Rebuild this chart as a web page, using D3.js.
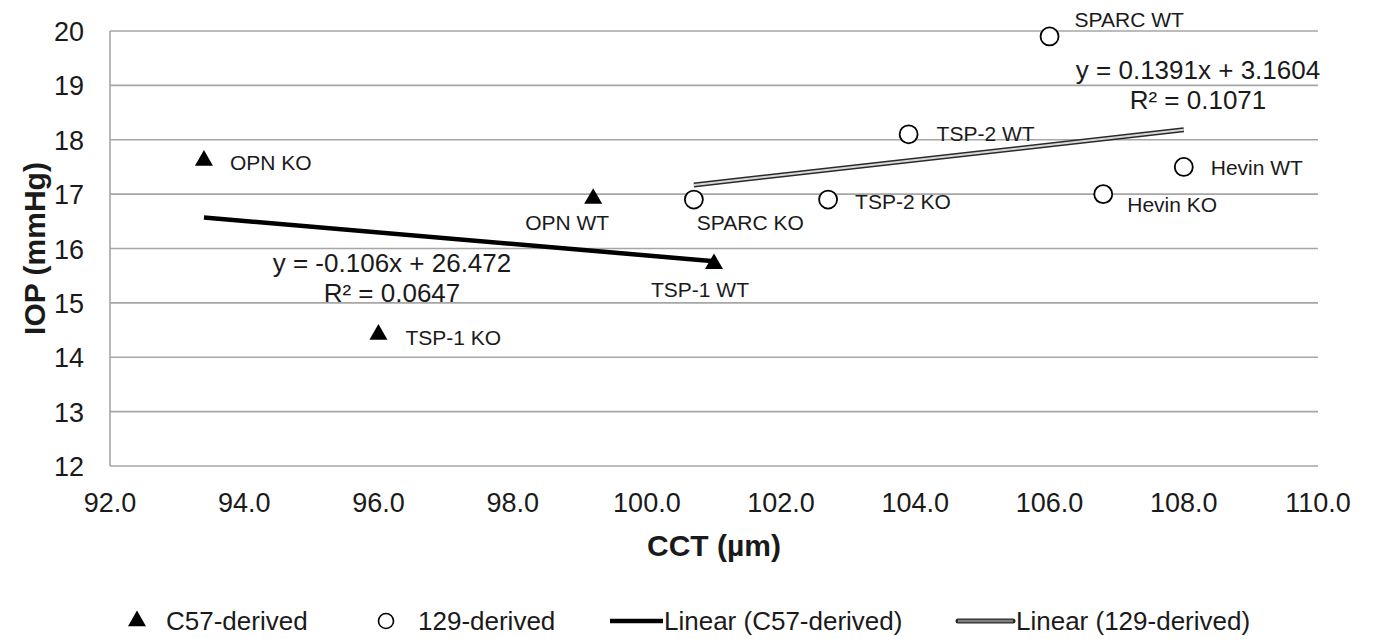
<!DOCTYPE html>
<html>
<head>
<meta charset="utf-8">
<script src="https://cdn.jsdelivr.net/npm/d3@7"></script>
<style>
  body { margin: 0; background: #fff; }
  svg { font-family: "Liberation Sans", Arial, sans-serif; }
</style>
</head>
<body>
<svg id="chart" width="1374" height="639"></svg>
<script>
// C57-derived strains (triangles)
const c57Names = ["OPN KO", "OPN WT", "TSP-1 WT", "TSP-1 KO"];
const c57CCT = [93.4, 99.2, 101.0, 96.0];
const c57IOP = [17.6, 16.9, 15.7, 14.4];

// 129-derived strains (circles)
const s129Names = ["SPARC WT", "TSP-2 WT", "Hevin WT", "SPARC KO", "TSP-2 KO", "Hevin KO"];
const s129CCT = [106.0, 103.9, 108.0, 100.7, 102.7, 106.8];
const s129IOP = [19.9, 18.1, 17.5, 16.9, 16.9, 17.0];

// trendline coefficients as printed on the chart
const c57Fit = { slope: -0.106, intercept: 26.472, eq: "y = -0.106x + 26.472", r2: "R² = 0.0647" };
const s129Fit = { slope: 0.1391, intercept: 3.1604, eq: "y = 0.1391x + 3.1604", r2: "R² = 0.1071" };

const xTicks = [92, 94, 96, 98, 100, 102, 104, 106, 108, 110];
const yTicks = [12, 13, 14, 15, 16, 17, 18, 19, 20];

const legendLabels = ["C57-derived", "129-derived", "Linear (C57-derived)", "Linear (129-derived)"];

// label placement (offsets from the point, px) - hand tuned
const c57LabelPos = [[26, 8, "start"], [-26, 30, "middle"], [-14, 32, "middle"], [27, 9, "start"]];
const s129LabelPos = [[25, -9, "start"], [28, 7, "start"], [27, 8, "start"], [3, 30, "start"], [27, 9, "start"], [24, 18, "start"]];

const svg = d3.select("#chart");
const plotL = 110, plotR = 1318, plotT = 31, plotB = 466;

const x = d3.scaleLinear().domain([92, 110]).range([plotL, plotR]);
const y = d3.scaleLinear().domain([12, 20]).range([plotB, plotT]);

const gridColor = "#a6a6a6";
const textColor = "#1a1a1a";

// gridlines
svg.append("g")
    .selectAll("line")
    .data(yTicks)
    .join("line")
    .attr("x1", plotL).attr("x2", plotR)
    .attr("y1", d => y(d)).attr("y2", d => y(d))
    .attr("stroke", gridColor)
    .attr("stroke-width", 1.6);

// y axis line
svg.append("line")
    .attr("x1", plotL).attr("x2", plotL)
    .attr("y1", plotT).attr("y2", plotB)
    .attr("stroke", gridColor).attr("stroke-width", 1.6);

// y tick labels
svg.append("g")
    .selectAll("text")
    .data(yTicks)
    .join("text")
    .attr("x", plotL - 26)
    .attr("y", d => y(d) + 10)
    .attr("text-anchor", "end")
    .attr("font-size", 27)
    .attr("fill", textColor)
    .text(d => d);

// x tick labels
svg.append("g")
    .selectAll("text")
    .data(xTicks)
    .join("text")
    .attr("x", d => x(d))
    .attr("y", plotB + 46)
    .attr("text-anchor", "middle")
    .attr("font-size", 27)
    .attr("fill", textColor)
    .text(d => d.toFixed(1));

// axis titles
svg.append("text")
    .attr("x", 714)
    .attr("y", 556)
    .attr("text-anchor", "middle")
    .attr("font-size", 30)
    .attr("font-weight", "bold")
    .attr("fill", textColor)
    .text("CCT (µm)");

svg.append("text")
    .attr("transform", "translate(45," + ((plotT + plotB) / 2) + ") rotate(-90)")
    .attr("text-anchor", "middle")
    .attr("font-size", 30)
    .attr("font-weight", "bold")
    .attr("fill", textColor)
    .text("IOP (mmHg)");

// trendlines
const line = d3.line().x(d => x(d[0])).y(d => y(d[1]));
const c57Line = d3.extent(c57CCT).map(v => [v, c57Fit.slope * v + c57Fit.intercept]);
const s129Line = d3.extent(s129CCT).map(v => [v, s129Fit.slope * v + s129Fit.intercept]);

svg.append("path").attr("d", line(c57Line))
    .attr("stroke", "#000").attr("stroke-width", 4.5).attr("fill", "none");
svg.append("path").attr("d", line(s129Line))
    .attr("stroke", "#2a2a2a").attr("stroke-width", 5).attr("fill", "none");
svg.append("path").attr("d", line(s129Line))
    .attr("stroke", "#d8d8d8").attr("stroke-width", 2).attr("fill", "none");

// markers
const tri = d3.symbol().type(d3.symbolTriangle).size(140);
svg.append("g")
    .selectAll("path")
    .data(c57CCT)
    .join("path")
    .attr("d", tri)
    .attr("transform", (d, i) => "translate(" + x(d) + "," + (y(c57IOP[i]) - 1) + ")")
    .attr("fill", "#000");

svg.append("g")
    .selectAll("circle")
    .data(s129CCT)
    .join("circle")
    .attr("cx", d => x(d))
    .attr("cy", (d, i) => y(s129IOP[i]))
    .attr("r", 9)
    .attr("fill", "#fff")
    .attr("stroke", "#000")
    .attr("stroke-width", 1.8);

// point labels
function pointLabels(names, xs, ys, pos) {
    svg.append("g")
        .selectAll("text")
        .data(names)
        .join("text")
        .attr("x", (d, i) => x(xs[i]) + pos[i][0])
        .attr("y", (d, i) => y(ys[i]) + pos[i][1])
        .attr("text-anchor", (d, i) => pos[i][2])
        .attr("font-size", 21)
        .attr("fill", textColor)
        .text(d => d);
}
pointLabels(c57Names, c57CCT, c57IOP, c57LabelPos);
pointLabels(s129Names, s129CCT, s129IOP, s129LabelPos);

// equations
function equation(fit, cx, cy) {
    const g = svg.append("g").attr("font-size", 26).attr("fill", textColor).attr("text-anchor", "middle");
    g.append("text").attr("x", cx).attr("y", cy).text(fit.eq);
    g.append("text").attr("x", cx).attr("y", cy + 30).text(fit.r2);
}
equation(c57Fit, 392, 272);
equation(s129Fit, 1198, 79);

// legend
const ly = 621;
const lg = svg.append("g").attr("font-size", 26).attr("fill", textColor);
lg.append("path").attr("d", tri).attr("transform", "translate(137," + ly + ")").attr("fill", "#000");
lg.append("text").attr("x", 166).attr("y", ly + 9).text(legendLabels[0]);
lg.append("circle").attr("cx", 386).attr("cy", ly).attr("r", 7.5)
    .attr("fill", "#fff").attr("stroke", "#000").attr("stroke-width", 1.6);
lg.append("text").attr("x", 418).attr("y", ly + 9).text(legendLabels[1]);
lg.append("line").attr("x1", 610).attr("x2", 663).attr("y1", ly).attr("y2", ly)
    .attr("stroke", "#000").attr("stroke-width", 4.5);
lg.append("text").attr("x", 664).attr("y", ly + 9).text(legendLabels[2]);
lg.append("line").attr("x1", 958).attr("x2", 1013).attr("y1", ly).attr("y2", ly)
    .attr("stroke", "#2a2a2a").attr("stroke-width", 5).attr("stroke-linecap", "round");
lg.append("line").attr("x1", 958).attr("x2", 1013).attr("y1", ly).attr("y2", ly)
    .attr("stroke", "#808080").attr("stroke-width", 2.5);
lg.append("text").attr("x", 1016).attr("y", ly + 9).text(legendLabels[3]);
</script>
</body>
</html>
